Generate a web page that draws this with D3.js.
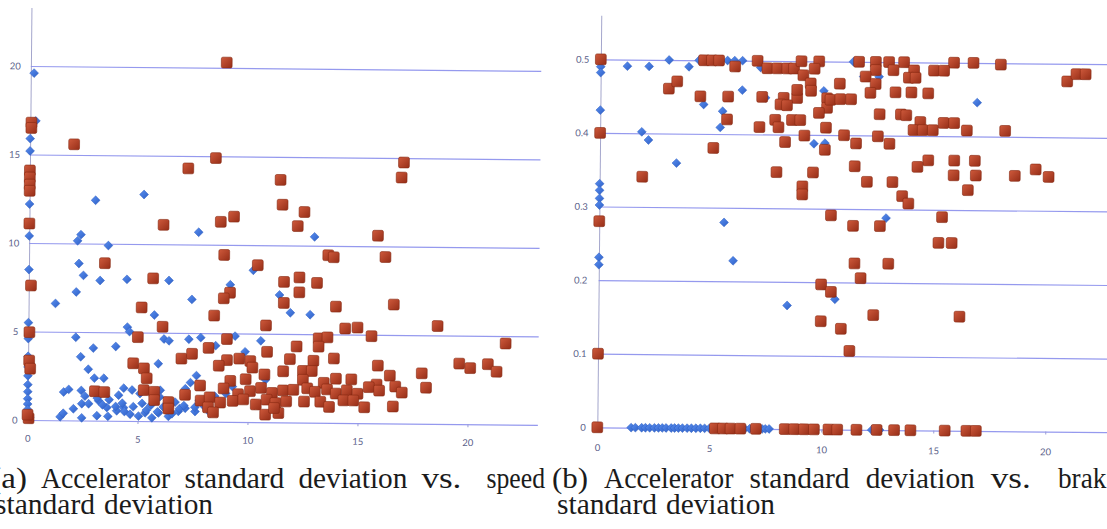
<!DOCTYPE html>
<html lang="en">
<head>
<meta charset="UTF-8">
<title>Accelerator standard deviation</title>
<script src="https://d3js.org/d3.v7.min.js"></script>
<style>
  html, body { margin: 0; padding: 0; background: #fff; }
  svg { display: block; }
  .tick text { font-family: Lato, "Open Sans", sans-serif; font-size: 9.5px; fill: #5b5f8a; }
  .caption { font-family: "Liberation Serif", "Times New Roman", serif; font-size: 30px; fill: #1b1b1b; }
</style>
</head>
<body>
<svg id="chart" width="1107" height="529"></svg>
<script>
// tick labels
const xTicks = [0, 5, 10, 15, 20];
const speedTicks = [0, 5, 10, 15, 20];
const brakeTicks = [0, 0.1, 0.2, 0.3, 0.4, 0.5];

// (a) accelerator std dev vs speed std dev  -- [x, y]
const speedBlue = [
  [0.15,19.6],[0.25,16.9],[0,15.9],[0,15.2],[0,12.2],[0,10.4],[0,8.5],[0,5.5],[0,4.6],
  [3.0,12.45],[5.2,12.8],[7.7,10.7],[12.97,10.5],[2.35,10.5],[2.2,10.15],[3.6,9.9],[2.27,8.87],
  [2.48,8.2],[3.24,7.92],[4.46,8.0],[6.37,7.96],[10.2,8.58],[2.16,7.26],[1.22,6.6],[7.42,6.9],
  [9.16,7.75],[11.4,7.2],[11.9,6.2],[12.8,6.1],[5.72,6.0],[4.5,5.3],[4.6,5.05],
  [2.16,4.7],[6.17,4.65],[6.4,4.55],[7.3,4.65],[7.84,4.75],[8.52,4.3],[9.4,4.85],[10.57,4.6],
  [2.96,4.1],[3.98,4.2],[2.39,3.6],[5.92,3.25],[9.86,3.97],[2.74,2.9],[3.02,2.4],[3.45,2.4],
  [7.66,2.6],[7.39,2.2],[1.63,1.6],[1.86,1.75],[2.43,1.7],[4.36,1.85],[4.74,1.75],[6.02,1.75],
  [7.16,1.85],[8.5,1.45],[9.3,2.0],[10.8,2.4],
  [2.08,0.66],[2.46,0.95],[1.48,0.2],[1.62,0.4],[2.46,0.15],[3.15,0.28],[2.77,0.95],[3.22,1.13],
  [3.6,0.75],[4.05,0.57],[4.36,0.75],[4.66,0.38],[5.04,0.28],[5.34,0.47],[5.65,0.19],[5.95,0.47],
  [6.4,0.28],[6.85,0.57],[7.16,0.75],[7.61,0.57],[3.16,1.28],[4.13,1.45],[5.1,1.55],[2.6,1.38],
  [3.7,1.19],[6.0,1.38],[6.7,1.09],[4.3,1.0],[4.8,0.81],[5.2,1.0],[5.6,0.9],[6.16,0.81],
  [6.9,0.72],[7.1,0.9],[7.6,0.81],[3.4,0.9],[4.0,0.81],[5.4,0.62],[5.9,0.53],[4.4,0.53],
  [3.65,0.25],[6.56,0.43],[8.0,0.9],[8.3,0.5],[9.0,1.6],[7.8,1.2],
  [0,3.6],[0,3.0],[0,2.5],[0,2.0],[0,1.6],[0,1.2],[0,0.9],[0,0.6],[0,0.35],[0.1,0.15]
];
const speedRed = [
  [8.9,20.3],[0.05,16.8],[0.05,16.5],[2.0,15.6],[8.45,14.9],[7.2,14.3],[17.0,14.75],[16.9,13.9],
  [11.4,13.7],[0,14.1],[0,13.7],[0,13.3],[0,12.95],[0,11.1],[11.5,12.3],[12.5,11.9],[6.1,11.1],
  [8.7,11.3],[9.3,11.6],[12.2,11.1],[15.85,10.6],[8.87,9.43],[13.6,9.47],[13.85,9.36],[16.2,9.4],
  [3.45,8.9],[10.4,8.87],[0.1,7.6],[5.65,8.07],[11.6,7.94],[12.3,8.2],[12.3,7.36],[13.1,7.9],
  [9.15,7.3],[8.87,6.98],[11.6,6.75],[13.97,6.57],[16.6,6.72],[5.14,6.42],[8.44,6.0],[6.1,5.34],
  [10.8,5.47],[18.6,5.53],[14.4,5.34],[14.96,5.4],[15.6,4.92],[4.98,4.74],[9.03,4.68],[13.2,4.77],
  [13.6,4.83],[21.7,4.58],[0.05,4.96],[8.2,4.17],[10.86,3.98],[12.2,4.3],[13.2,4.3],[13.9,3.64],
  [6.97,3.55],[7.45,3.83],[9.04,3.49],[9.6,3.58],[10.1,3.45],[11.9,3.58],[12.97,3.5],[19.6,3.42],
  [20.1,3.17],[20.9,3.4],[21.3,2.98],[17.9,2.85],[15.9,3.26],[0.05,3.36],[0.1,2.9],[4.78,3.26],
  [5.27,2.98],[8.67,3.17],[10.2,3.08],[10.75,2.7],[11.6,2.89],[12.5,2.92],[12.9,2.92],[12.5,2.42],
  [16.45,2.7],[5.4,2.42],[14.0,2.5],[14.7,2.47],[13.45,2.26],[15.85,2.19],[16.7,2.09],[18.1,2.04],
  [9.2,2.32],[9.9,2.42],[7.83,2.04],[3.05,1.66],[3.48,1.62],[5.27,1.75],[5.75,1.66],[7.15,1.51],
  [8.9,1.89],[9.56,1.57],[10.1,1.75],[10.6,1.94],[11.1,1.66],[11.6,1.81],[12.07,1.85],[12.7,1.94],
  [13.05,1.75],[13.6,1.89],[14.0,1.66],[14.5,1.85],[14.99,1.66],[15.5,2.04],[15.97,1.85],[17.0,1.75],
  [5.75,1.19],[6.4,1.09],[7.86,1.19],[8.27,1.38],[8.75,1.09],[9.32,1.19],[9.8,1.28],[10.37,1.0],
  [10.86,1.28],[11.26,1.09],[11.75,1.19],[12.56,1.19],[13.3,1.19],[13.7,0.9],[14.35,1.28],[14.8,1.28],
  [15.3,0.9],[16.6,0.96],[6.4,0.72],[8.2,0.81],[8.43,0.53],[10.8,0.43],[11.4,0.53],[11.2,0.81],
  [0.05,0.1],[0,0.3]
];

// (b) accelerator std dev vs brake std dev  -- [x, y]
const brakeBlue = [
  [0,0.49],[0,0.482],[0,0.431],[0,0.331],[0,0.322],[0,0.311],[0,0.302],[0,0.231],[0,0.221],
  [1.19,0.491],[2.16,0.491],[3.05,0.5],[3.94,0.491],[4.39,0.5],[5.66,0.5],[5.98,0.5],[6.33,0.5],
  [6.33,0.46],[4.61,0.44],[5.46,0.431],[5.36,0.409],[1.86,0.402],[2.16,0.391],[3.42,0.36],
  [7.14,0.491],[7.37,0.45],[9.55,0.388],[10.04,0.389],[9.97,0.46],[11.28,0.5],[11.74,0.48],
  [12.43,0.48],[16.82,0.446],[12.8,0.288],[5.57,0.28],[5.99,0.228],[8.42,0.168],[10.55,0.177],
  [0,0],[1.51,0],[1.7,0],[1.98,0],[2.15,0],[2.34,0],[2.55,0],[2.73,0],[2.9,0],[3.07,0],[3.3,0],
  [3.45,0],[3.62,0],[3.8,0],[4.01,0],[4.2,0],[4.4,0],[4.6,0],[4.79,0],[5.0,0],[5.18,0],[5.4,0],
  [5.64,0],[5.85,0],[6.11,0],[6.35,0],[6.58,0],[6.8,0],[6.97,0],[7.15,0],[7.36,0],[7.5,0],
  [7.67,0],[12.25,0],[12.42,0],[12.6,0]
];
const brakeRed = [
  [0,0.5],[0,0.4],[0,0.28],[0,0.1],[0,0],
  [4.61,0.5],[4.96,0.5],[5.28,0.5],[6.0,0.492],[7.0,0.5],[7.44,0.49],[7.89,0.49],[8.33,0.49],
  [8.63,0.49],[8.96,0.5],[9.75,0.5],[9.55,0.49],[9.05,0.481],[9.38,0.47],[9.4,0.46],[3.05,0.461],
  [3.42,0.471],[4.46,0.451],[5.7,0.451],[7.22,0.451],[8.18,0.45],[8.78,0.45],[8.78,0.461],
  [10.12,0.45],[10.12,0.437],[8.04,0.441],[8.33,0.44],[9.76,0.43],[5.66,0.42],[7.81,0.42],
  [7.96,0.41],[8.56,0.42],[8.93,0.42],[7.11,0.41],[10.08,0.41],[9.12,0.399],[8.26,0.39],
  [10.04,0.38],[5.06,0.381],[1.9,0.341],[7.89,0.349],[9.52,0.349],[9.05,0.33],[9.05,0.319],
  [10.34,0.291],
  [11.53,0.5],[12.28,0.5],[12.87,0.5],[13.54,0.5],[15.77,0.5],[16.64,0.5],[17.86,0.498],
  [12.28,0.489],[13.07,0.489],[13.99,0.489],[14.88,0.489],[15.33,0.489],[11.83,0.48],[13.76,0.479],
  [14.06,0.479],[12.28,0.47],[10.68,0.47],[12.05,0.458],[13.17,0.459],[13.88,0.459],[14.63,0.458],
  [20.83,0.476],[21.24,0.486],[21.65,0.486],[10.27,0.448],[10.71,0.449],[11.19,0.449],[12.47,0.429],
  [13.42,0.429],[13.66,0.428],[14.29,0.419],[15.33,0.418],[15.8,0.418],[13.99,0.408],[14.4,0.408],
  [14.85,0.408],[16.37,0.408],[18.08,0.408],[10.89,0.4],[11.43,0.389],[12.4,0.399],[12.92,0.389],
  [14.66,0.367],[14.18,0.358],[11.38,0.358],[15.82,0.367],[16.74,0.367],[15.8,0.347],[16.79,0.347],
  [18.53,0.347],[19.46,0.356],[20.04,0.346],[11.93,0.337],[13.07,0.337],[16.44,0.327],[13.51,0.318],
  [13.79,0.308],[15.3,0.29],
  [11.33,0.277],[12.53,0.277],[15.15,0.255],[15.74,0.255],[11.41,0.226],[12.92,0.226],[11.69,0.206],
  [9.93,0.197],[10.37,0.187],[12.27,0.156],[16.12,0.155],[9.93,0.147],[10.83,0.137],[11.22,0.107],
  [5.25,0],[5.61,0],[5.95,0],[6.39,0],[7.08,0],[8.37,0],[8.79,0],[9.23,0],[9.67,0],[10.32,0],
  [10.71,0],[11.57,0],[12.47,0],[13.25,0],[13.98,0],[15.51,0],[16.48,0],[16.9,0]
];

const svg = d3.select("#chart");

// gradients for the excel style markers
const defs = svg.append("defs");
function grad(id, c1, c2) {
  const g = defs.append("linearGradient").attr("id", id)
    .attr("x1", 0).attr("y1", 0).attr("x2", 1).attr("y2", 1);
  g.append("stop").attr("offset", "0%").attr("stop-color", c1);
  g.append("stop").attr("offset", "100%").attr("stop-color", c2);
}
grad("redFill", "#cf5a3c", "#952d17");
grad("blueFill", "#5a8ff0", "#2d5fc6");

const tilt = 0.55; // the scan is slightly rotated

function panel(cfg) {
  const x = d3.scaleLinear().domain([0, cfg.xMax]).range([0, cfg.xMax * cfg.xUnit]);
  const y = d3.scaleLinear().domain([0, cfg.yMax]).range([0, -cfg.yMax * cfg.yUnit]);
  const w = x.range()[1];

  const g = svg.append("g")
      .attr("transform", `translate(${cfg.ox},${cfg.oy}) rotate(${tilt})`);

  // y axis + gridlines
  const ya = g.append("g")
      .call(d3.axisLeft(y).tickValues(cfg.yTicks).tickSize(-w).tickSizeOuter(0)
        .tickPadding(cfg.yPad).tickFormat(cfg.yFmt));
  ya.select(".domain").attr("stroke", "#a4a6cc").attr("stroke-width", 1);
  ya.selectAll(".tick line").attr("stroke", "#8a8eec").attr("stroke-width", 1.2).attr("opacity", 0.9);

  // x axis labels with small ticks
  const xa = g.append("g")
      .call(d3.axisBottom(x).tickValues(xTicks).tickSize(3).tickSizeOuter(0).tickPadding(cfg.xPad));
  xa.select(".domain").remove();
  xa.selectAll(".tick line").attr("stroke", "#9a9dd8");

  g.append("g").selectAll("path")
    .data(cfg.blue)
    .join("path")
      .attr("transform", d => `translate(${x(d[0])},${y(d[1])})`)
      .attr("d", d3.symbol().type(d3.symbolDiamond2).size(50))
      .attr("fill", "url(#blueFill)")
      .attr("stroke", "#2c5cc0").attr("stroke-width", 0.5);

  const s = 10.8;
  g.append("g").selectAll("rect")
    .data(cfg.red)
    .join("rect")
      .attr("x", d => x(d[0]) - s / 2)
      .attr("y", d => y(d[1]) - s / 2)
      .attr("width", s).attr("height", s)
      .attr("rx", 1.6)
      .attr("fill", "url(#redFill)")
      .attr("stroke", "#86270f").attr("stroke-width", 0.6);
}

panel({
  ox: 27.5, oy: 420, xUnit: 22, yUnit: 17.7, xMax: 23.2, yMax: 23.3,
  yTicks: speedTicks, yFmt: d3.format("d"), yPad: 10, xPad: 12,
  blue: speedBlue, red: speedRed
});
panel({
  ox: 597.3, oy: 427.3, xUnit: 22.4, yUnit: 736, xMax: 23.5, yMax: 0.56,
  yTicks: brakeTicks, yFmt: d => d === 0 ? "0" : d3.format(".1f")(d), yPad: 11.5, xPad: 14,
  blue: brakeBlue, red: brakeRed
});

// captions: justified latex lines, each word [text, left x, width]
const captionLines = [
  { y: 488, words: [["(a)", -9.7, 36.6], ["Accelerator", 40.9, 129.4], ["standard", 184.4, 100],
                    ["deviation", 298.4, 109], ["vs.", 421.4, 40], ["speed", 486.5, 58.5]] },
  { y: 514, words: [["standard", -5, 100], ["deviation", 104, 109]] },
  { y: 488, words: [["(b)", 552, 36], ["Accelerator", 604.1, 129.4], ["standard", 749.6, 100],
                    ["deviation", 865.7, 109], ["vs.", 990.8, 40], ["brake", 1058, 60.5]] },
  { y: 514, words: [["standard", 557, 100], ["deviation", 666, 109]] }
];
captionLines.forEach(line => {
  line.words.forEach(([word, wx, ww]) => {
    svg.append("text")
      .attr("class", "caption")
      .attr("x", wx).attr("y", line.y)
      .attr("textLength", ww)
      .attr("lengthAdjust", "spacingAndGlyphs")
      .text(word);
  });
});
</script>
</body>
</html>
